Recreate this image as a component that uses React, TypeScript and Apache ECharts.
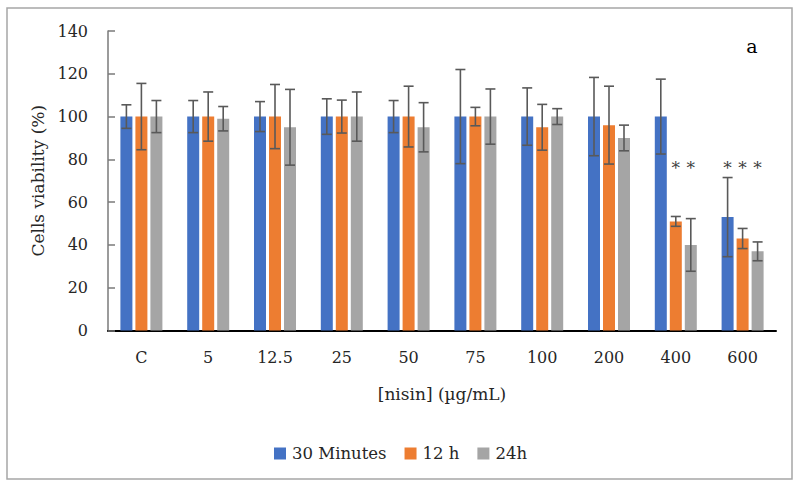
import React, { useEffect, useRef } from "react";
import * as echarts from "echarts";

const categories = ["C", "5", "12.5", "25", "50", "75", "100", "200", "400", "600"];
const seriesNames = ["30 Minutes", "12 h", "24h"];
const min30 = [100, 100, 100, 100, 100, 100, 100, 100, 100, 53];
const h12 = [100, 100, 100, 100, 100, 100, 95, 96, 51, 43];
const h24 = [100, 99, 95, 100, 95, 100, 100, 90, 40, 37];
const err30 = [5.5, 7.5, 7, 8.3, 7.5, 22, 13.4, 18.3, 17.5, 18.5];
const err12 = [15.5, 11.5, 15, 7.7, 14.2, 4.3, 10.7, 18.2, 2.3, 4.7];
const err24 = [7.5, 5.7, 17.7, 11.5, 11.5, 12.9, 3.7, 6, 12.3, 4.4];
// significance stars: [category index, series index, height]
const stars = [
  [8, 1, 76],
  [8, 2, 76],
  [9, 0, 76],
  [9, 1, 76],
  [9, 2, 76],
];
const yTicks = { min: 0, max: 140, interval: 20 };

const colors = ["#4472C4", "#ED7D31", "#A5A5A5"];
const FONT = "DejaVu Serif";
const TEXT = "#262626";

export default function App() {
  const ref = useRef<HTMLDivElement>(null);
  useEffect(() => {
    document.body.style.margin = "0";
    const chart = echarts.init(ref.current!, null, { renderer: "svg" });
    const values = [min30, h12, h24];
    const errs = [err30, err12, err24];
    const offsets = [-15, 0, 15];

    const barSeries = values.map((v, i) => ({
      name: seriesNames[i],
      type: "bar",
      data: v,
      barWidth: 12,
      barGap: "25%",
      itemStyle: { color: colors[i] },
    }));

    const errSeries = values.map((v, i) => ({
      name: "err" + i,
      type: "custom",
      data: v.map((val, k) => [k, val - errs[i][k], val + errs[i][k]]),
      z: 10,
      renderItem: (params: any, api: any) => {
        const lo = api.coord([api.value(0), api.value(1)]);
        const hi = api.coord([api.value(0), api.value(2)]);
        const x = lo[0] + offsets[i];
        const style = { stroke: "#595959", lineWidth: 1.6 };
        return {
          type: "group",
          children: [
            { type: "line", shape: { x1: x, y1: lo[1], x2: x, y2: hi[1] }, style },
            { type: "line", shape: { x1: x - 5, y1: lo[1], x2: x + 5, y2: lo[1] }, style },
            { type: "line", shape: { x1: x - 5, y1: hi[1], x2: x + 5, y2: hi[1] }, style },
          ],
        };
      },
    }));

    const starSeries = {
      name: "stars",
      type: "custom",
      data: stars,
      z: 11,
      renderItem: (params: any, api: any) => {
        const p = api.coord([api.value(0), api.value(2)]);
        return {
          type: "text",
          x: p[0] + offsets[api.value(1)],
          y: p[1],
          style: {
            text: "*",
            fill: "#404040",
            font: `17px ${FONT}`,
            align: "center",
            verticalAlign: "middle",
          },
        };
      },
    };

    chart.setOption({
      animation: false,
      textStyle: { fontFamily: FONT },
      grid: { left: 108, right: 22, top: 31, bottom: 155.5 },
      legend: {
        data: seriesNames,
        left: 274,
        top: 445,
        padding: 0,
        itemWidth: 12,
        itemHeight: 12,
        itemGap: 18,
        icon: "rect",
        textStyle: { fontFamily: FONT, fontSize: 16.5, color: TEXT, padding: [0, 0, 0, 1] },
      },
      xAxis: {
        type: "category",
        data: categories,
        name: "[nisin] (µg/mL)",
        nameLocation: "middle",
        nameGap: 55,
        nameTextStyle: { fontFamily: FONT, fontSize: 17, color: TEXT },
        axisLine: { lineStyle: { color: "#000", width: 2 } },
        axisTick: { show: false },
        axisLabel: { fontFamily: FONT, fontSize: 16, color: TEXT, margin: 19 },
        splitLine: { show: false },
      },
      yAxis: {
        type: "value",
        min: yTicks.min,
        max: yTicks.max,
        interval: yTicks.interval,
        name: "Cells viability (%)",
        nameLocation: "middle",
        nameGap: 60,
        nameTextStyle: { fontFamily: FONT, fontSize: 17, color: TEXT },
        axisLine: { show: true, lineStyle: { color: "#7a7a7a", width: 1.5 } },
        axisTick: { show: true, inside: true, length: 7, lineStyle: { color: "#7a7a7a", width: 1.5 } },
        axisLabel: { fontFamily: FONT, fontSize: 16, color: TEXT, margin: 20 },
        splitLine: { show: false },
      },
      graphic: [
        {
          type: "rect",
          shape: { x: 7, y: 8, width: 785, height: 471 },
          style: { fill: "none", stroke: "#a6a6a6", lineWidth: 1.5 },
          silent: true,
        },
        {
          type: "text",
          x: 752,
          y: 46,
          style: { text: "a", font: `19px ${FONT}`, fill: "#000", align: "center", verticalAlign: "middle" },
        },
      ],
      series: [...barSeries, ...errSeries, starSeries],
    });
    return () => chart.dispose();
  }, []);
  return <div ref={ref} style={{ width: 798, height: 486 }} />;
}
